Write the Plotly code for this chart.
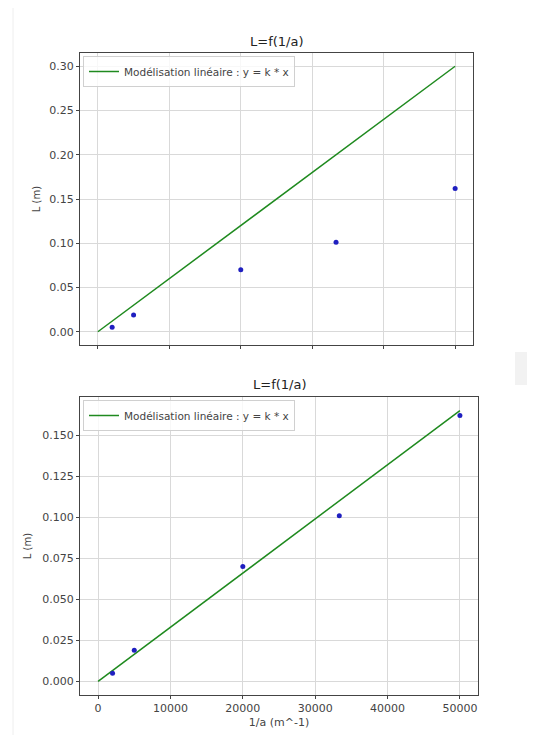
import plotly.graph_objects as go

# ---- data ----
inv_a = [2000, 5000, 20000, 33333, 50000]          # 1/a (m^-1)
L_m = [0.005, 0.019, 0.070, 0.101, 0.162]           # L (m)
model_x = [0, 50000]
model_top = [0.0, 0.300]                            # first fit  y = k*x
model_bottom = [0.0, 0.165]                         # second fit y = k*x
legend_label = "Modélisation linéaire : y = k * x"
title_text = "L=f(1/a)"
x_ticks = [0, 10000, 20000, 30000, 40000, 50000]
y_ticks_top = [0.00, 0.05, 0.10, 0.15, 0.20, 0.25, 0.30]
y_ticks_bottom = [0.000, 0.025, 0.050, 0.075, 0.100, 0.125, 0.150]

# the page body keeps an 8px default margin, so the figure is drawn 8px in
OFF = 8
W, H = 535 - OFF, 735 - OFF
FONT = "DejaVu Sans"
GREEN = "#1f8a1f"
BLUE = "#1f1fc0"
TXT = "#444444"
FS = 11

def px_x(p):
    return (p - OFF) / W

def px_y(p):
    return 1 - (p - OFF) / H

fig = go.Figure()

fig.add_trace(go.Scatter(x=model_x, y=model_top, mode="lines", line=dict(color=GREEN, width=1.5),
                         name=legend_label, xaxis="x", yaxis="y", legend="legend"))
fig.add_trace(go.Scatter(x=inv_a, y=L_m, mode="markers", marker=dict(color=BLUE, size=5),
                         showlegend=False, xaxis="x", yaxis="y"))
fig.add_trace(go.Scatter(x=model_x, y=model_bottom, mode="lines", line=dict(color=GREEN, width=1.5),
                         name=legend_label, xaxis="x2", yaxis="y2", legend="legend2"))
fig.add_trace(go.Scatter(x=inv_a, y=L_m, mode="markers", marker=dict(color=BLUE, size=5),
                         showlegend=False, xaxis="x2", yaxis="y2"))

axis_common = dict(showline=True, linecolor="#444444", linewidth=1, mirror=True,
                   ticks="outside", ticklen=3, tickcolor="#444444", tickwidth=1,
                   showgrid=True, gridcolor="#d9d9d9", gridwidth=1, zeroline=False,
                   automargin=False,
                   tickfont=dict(family=FONT, size=FS, color=TXT))

fig.update_layout(
    width=W, height=H,
    margin=dict(l=0, r=0, t=0, b=0, autoexpand=False),
    paper_bgcolor="white", plot_bgcolor="white",
    font=dict(family=FONT, size=FS, color=TXT),
    xaxis=dict(domain=[px_x(80), px_x(473)], anchor="y", range=[-2500, 52500],
               tickvals=x_ticks, showticklabels=False, **axis_common),
    yaxis=dict(domain=[px_y(345), px_y(53)], anchor="x", range=[-0.015, 0.315],
               tickvals=y_ticks_top, tickformat=".2f",
               title=dict(text="L (m)", font=dict(family=FONT, size=10, color=TXT), standoff=6),
               **axis_common),
    xaxis2=dict(domain=[px_x(80), px_x(478)], anchor="y2", range=[-2500, 52500],
                tickvals=x_ticks, tickformat="d",
                title=dict(text="1/a (m^-1)", font=dict(family=FONT, size=FS, color=TXT), standoff=4),
                **axis_common),
    yaxis2=dict(domain=[px_y(695), px_y(397)], anchor="x2", range=[-0.00825, 0.17325],
                tickvals=y_ticks_bottom, tickformat=".3f",
                title=dict(text="L (m)", font=dict(family=FONT, size=10, color=TXT), standoff=8),
                **axis_common),
    legend=dict(x=px_x(83), y=px_y(56), xanchor="left", yanchor="top",
                bgcolor="rgba(255,255,255,0.8)", bordercolor="#d0d0d0", borderwidth=1,
                font=dict(family=FONT, size=10.5, color=TXT), itemwidth=30),
    legend2=dict(x=px_x(83), y=px_y(400), xanchor="left", yanchor="top",
                 bgcolor="rgba(255,255,255,0.8)", bordercolor="#d0d0d0", borderwidth=1,
                 font=dict(family=FONT, size=10.5, color=TXT), itemwidth=30),
    annotations=[
        dict(text=title_text, x=px_x(276), y=px_y(42), xref="paper", yref="paper",
             xanchor="center", yanchor="middle",
             showarrow=False, font=dict(family=FONT, size=13, color="#222222")),
        dict(text=title_text, x=px_x(279), y=px_y(384), xref="paper", yref="paper",
             xanchor="center", yanchor="middle",
             showarrow=False, font=dict(family=FONT, size=13, color="#222222")),
    ],
    shapes=[
        dict(type="rect", xref="paper", yref="paper", x0=px_x(515), x1=1,
             y0=px_y(385), y1=px_y(352),
             fillcolor="#f2f2f2", line=dict(width=0), layer="below"),
        dict(type="line", xref="paper", yref="paper", x0=px_x(13), x1=px_x(13), y0=0, y1=1,
             line=dict(color="#eeeeee", width=1), layer="below"),
    ],
)

fig.write_html("out.html")
